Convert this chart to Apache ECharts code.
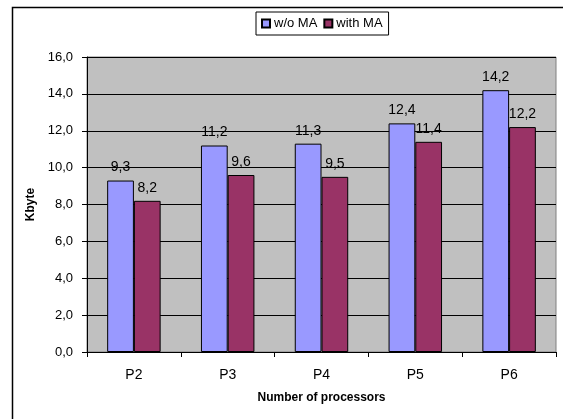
<!DOCTYPE html>
<html>
<head>
<meta charset="utf-8">
<script src="https://cdn.jsdelivr.net/npm/echarts@6/dist/echarts.min.js"></script>
<style>
html,body{margin:0;padding:0;background:#fff;}
#c{width:563px;height:419px;}
</style>
</head>
<body>
<div id="c"></div>
<script>
var categories = ['P2', 'P3', 'P4', 'P5', 'P6'];
var seriesNames = ['w/o MA', 'with MA'];
var withoutMA = [9.3, 11.2, 11.3, 12.4, 14.2];
var withMA = [8.2, 9.6, 9.5, 11.4, 12.2];
var yTicks = [0, 2, 4, 6, 8, 10, 12, 14, 16];

var FONT = '"Liberation Sans", Arial, sans-serif';
function fmt(v) { return Number(v).toFixed(1).replace('.', ','); }

var chart = echarts.init(document.getElementById('c'), null, {renderer: 'canvas'});
chart.setOption({
  animation: false,
  textStyle: {fontFamily: FONT, color: '#000'},
  graphic: [
    {type: 'polyline', shape: {points: [[12.5, 430], [12.5, 7.5], [580, 7.5]]},
     style: {stroke: '#000', lineWidth: 1.5, fill: null}, z: 0}
  ],
  legend: {
    left: 256, top: 12,
    padding: [5, 6, 5, 5],
    itemWidth: 8, itemHeight: 8, itemGap: 6,
    borderColor: '#000', borderWidth: 1, backgroundColor: '#fff',
    textStyle: {fontFamily: FONT, fontSize: 13, color: '#000', padding: [0, 0, 0, -1]},
    data: seriesNames,
    icon: 'rect'
  },
  grid: {left: 87, top: 57, width: 469, height: 295, show: true,
         backgroundColor: '#c0c0c0', borderColor: '#808080', borderWidth: 1},
  xAxis: {
    type: 'category', data: categories,
    name: 'Number of processors', nameLocation: 'middle', nameGap: 40,
    nameTextStyle: {fontFamily: FONT, fontSize: 12, fontWeight: 'bold', color: '#000'},
    axisLine: {lineStyle: {color: '#000', width: 1}},
    axisTick: {show: true, alignWithLabel: false, length: 5, lineStyle: {color: '#000'}},
    axisLabel: {fontFamily: FONT, fontSize: 14, color: '#000', margin: 16}
  },
  yAxis: {
    type: 'value', min: yTicks[0], max: yTicks[yTicks.length - 1], interval: 2,
    name: 'Kbyte', nameLocation: 'middle', nameRotate: 90, nameGap: 41,
    nameTextStyle: {fontFamily: FONT, fontSize: 12, fontWeight: 'bold', color: '#000'},
    axisLine: {show: true, lineStyle: {color: '#000', width: 1}},
    axisTick: {show: true, length: 5, lineStyle: {color: '#000'}},
    axisLabel: {fontFamily: FONT, fontSize: 13, color: '#000', margin: 14, formatter: fmt},
    splitLine: {show: true, lineStyle: {color: '#000', width: 1}}
  },
  series: [
    {name: seriesNames[0], type: 'bar', data: withoutMA, barGap: '0%', barCategoryGap: '43%',
     itemStyle: {color: '#9999ff', borderColor: '#000', borderWidth: 1},
     label: {show: true, position: 'top', distance: 6, fontFamily: FONT, fontSize: 14, color: '#000',
             formatter: function (p) { return fmt(p.value); }}},
    {name: seriesNames[1], type: 'bar', data: withMA,
     itemStyle: {color: '#993366', borderColor: '#000', borderWidth: 1},
     label: {show: true, position: 'top', distance: 6, fontFamily: FONT, fontSize: 14, color: '#000',
             formatter: function (p) { return fmt(p.value); }}}
  ]
});
</script>
</body>
</html>
